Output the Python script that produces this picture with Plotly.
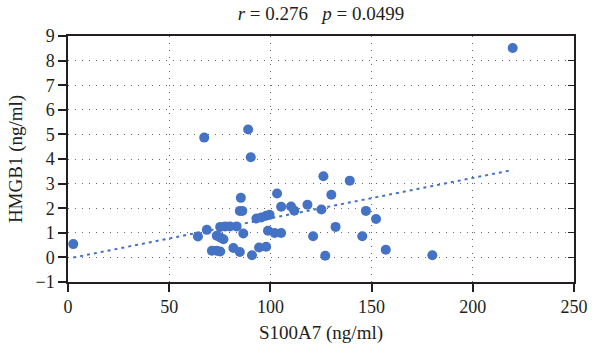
import plotly.graph_objects as go

# Data
s100a7 = [2.6, 64.2, 67.3, 68.6, 71.1, 73.5, 73.5, 75.2, 75.2, 75.2, 76.8, 77.6, 80.0, 81.7,
          83.3, 84.9, 84.9, 85.4, 86.1, 86.6, 89.0, 90.3, 90.9, 93.1, 94.4, 95.5, 97.9, 97.9,
          98.8, 99.6, 102.1, 103.3, 105.3, 105.3, 110.2, 111.8, 118.3, 121.1, 125.2, 126.2,
          127.1, 130.1, 132.2, 139.2, 145.4, 147.2, 152.2, 157.0, 180.0, 219.7]
hmgb1 = [0.54, 0.85, 4.87, 1.12, 0.27, 0.88, 0.27, 1.24, 0.81, 0.24, 0.74, 1.26, 1.26, 0.38,
         1.26, 1.89, 0.22, 2.42, 1.89, 0.97, 5.20, 4.07, 0.09, 1.58, 0.40, 1.62, 1.69, 0.43,
         1.08, 1.73, 0.99, 2.60, 2.06, 0.99, 2.07, 1.90, 2.14, 0.86, 1.95, 3.30,
         0.07, 2.55, 1.24, 3.12, 0.86, 1.89, 1.56, 0.31, 0.09, 8.51]

# Linear trend line
trend_intercept = -0.05
trend_slope = 0.0164

x_ticks = [0, 50, 100, 150, 200, 250]
y_ticks = list(range(-1, 10))

blue = "#4472C4"
font_family = "Liberation Serif"

tx = [min(s100a7), max(s100a7)]
ty = [trend_intercept + trend_slope * v for v in tx]

fig = go.Figure()
fig.add_trace(go.Scatter(x=tx, y=ty, mode="lines",
                         line=dict(color=blue, width=2, dash="3px,4px"),
                         hoverinfo="skip", showlegend=False))
fig.add_trace(go.Scatter(x=s100a7, y=hmgb1, mode="markers",
                         marker=dict(color=blue, size=10, line=dict(width=0)),
                         showlegend=False))
# invisible trace for right-side inward ticks
fig.add_trace(go.Scatter(x=[None], y=[None], yaxis="y2", showlegend=False, hoverinfo="skip"))

fig.update_layout(
    width=600, height=354,
    margin=dict(l=68, r=22, t=36, b=72),
    paper_bgcolor="white", plot_bgcolor="white",
    font=dict(family=font_family, color="#231f20", size=18),
    title=dict(text="<i>r</i> = 0.276   <i>p</i> = 0.0499", x=0.535, xanchor="center",
               y=1 - 13 / 354, yanchor="middle", yref="container",
               font=dict(family=font_family, size=19, color="#231f20")),
    xaxis=dict(range=[0, 250], tickvals=x_ticks, ticks="outside", ticklen=8, tickwidth=1.5,
               tickcolor="#231f20", showline=True, linecolor="#231f20", linewidth=1.5,
               mirror=True, showgrid=True, gridcolor="#666666", gridwidth=1, griddash="1px,6px",
               zeroline=False, tickfont=dict(size=18),
               title=dict(text="S100A7 (ng/ml)", font=dict(size=19), standoff=9)),
    yaxis=dict(range=[-1, 9], tickvals=y_ticks, ticks="outside", ticklen=8, tickwidth=1.5,
               tickcolor="#231f20", showline=True, linecolor="#231f20", linewidth=1.5,
               mirror=True, showgrid=True, gridcolor="#666666", gridwidth=1, griddash="1px,6px",
               zeroline=False, tickfont=dict(size=18),
               title=dict(text="HMGB1 (ng/ml)", font=dict(size=19), standoff=8)),
    yaxis2=dict(range=[-1, 9], tickvals=y_ticks, overlaying="y", side="right",
                ticks="inside", ticklen=6, tickwidth=1.2, tickcolor="#231f20",
                showticklabels=False, showgrid=False, zeroline=False, showline=False),
)

fig.write_html("out.html")
